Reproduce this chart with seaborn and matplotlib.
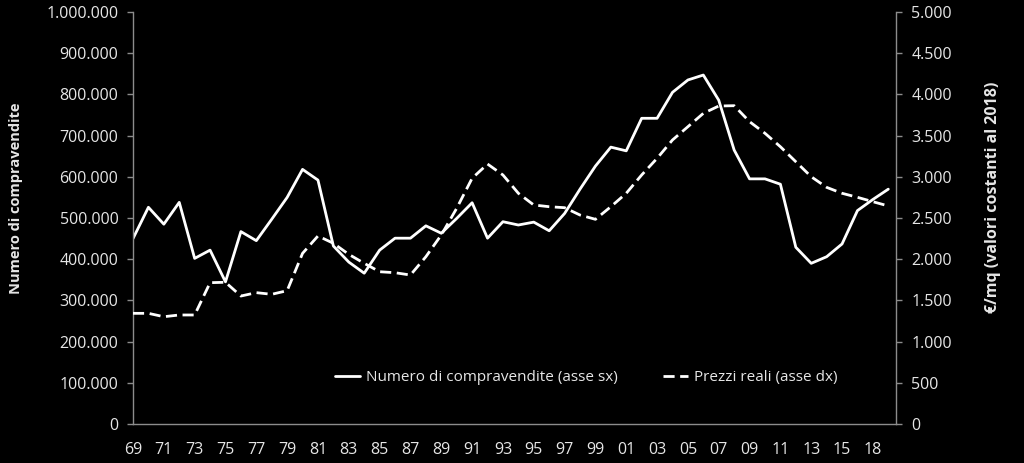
import matplotlib
matplotlib.use("Agg")
import matplotlib.pyplot as plt
from matplotlib.ticker import FuncFormatter, FixedLocator
from matplotlib.lines import Line2D
import seaborn as sns
import numpy as np
import pandas as pd

sns.set_theme(style="white")
plt.rcParams['font.family'] = ['Open Sans', 'DejaVu Sans']

# ---- data ----
years = list(range(1969, 2019))  # 50 categories
compravendite = [450000, 526000, 485000, 538000, 402000, 422000, 345000, 467000, 445000, 497000,
                 550000, 618000, 592000, 432000, 393000, 366000, 422000, 451000, 451000, 481000,
                 463000, 499000, 537000, 451000, 491000, 483000, 490000, 469000, 511000, 570000,
                 626000, 672000, 663000, 742000, 742000, 805000, 835000, 847000, 786000, 665000,
                 595000, 595000, 582000, 429000, 390000, 406000, 437000, 518000, 545000, 570000]
prezzi_reali = [1343, 1343, 1302, 1323, 1323, 1715, 1720, 1553, 1594, 1574,
                1618, 2071, 2282, 2193, 2059, 1950, 1848, 1836, 1808, 2030,
                2294, 2618, 2982, 3155, 3022, 2800, 2658, 2637, 2625, 2536,
                2484, 2637, 2800, 3022, 3224, 3447, 3608, 3770, 3859, 3863,
                3669, 3528, 3365, 3183, 3001, 2872, 2800, 2751, 2698, 2646]
tick_labels = ["69", "71", "73", "75", "77", "79", "81", "83", "85", "87", "89", "91", "93",
               "95", "97", "99", "01", "03", "05", "07", "09", "11", "13", "15", "18"]

label_left = "Numero di compravendite"
label_right = "€/mq (valori costanti al 2018)"
legend_labels = ["Numero di compravendite (asse sx)", "Prezzi reali (asse dx)"]

df = pd.DataFrame({"idx": np.arange(len(years)), "comp": compravendite, "prezzi": prezzi_reali})

TXT = "#e6e6e6"
SPINE = "#8c8c8c"
FS = 11.5

fig = plt.figure(figsize=(10.24, 4.63), dpi=100, facecolor="black")
ax = fig.add_axes([133/1024, 1 - 424/463, (896 - 133)/1024, (424 - 12)/463])
ax.set_facecolor("black")
ax2 = ax.twinx()

sns.lineplot(data=df, x="idx", y="comp", ax=ax, color="white", linewidth=2.0)
sns.lineplot(data=df, x="idx", y="prezzi", ax=ax2, color="white", linewidth=2.0)
for ln in ax2.get_lines():
    ln.set_dashes([4, 2])
    ln.set_dash_capstyle("butt")

ax.set_xlim(0, 49.5)
ax.set_ylim(0, 1000000)
ax2.set_ylim(0, 5000)

ax.set_yticks(np.arange(0, 1000001, 100000))
ax2.set_yticks(np.arange(0, 5001, 500))
fmt = FuncFormatter(lambda v, p: f"{v:,.0f}".replace(",", "."))
ax.yaxis.set_major_formatter(fmt)
ax2.yaxis.set_major_formatter(fmt)

ax.xaxis.set_major_locator(FixedLocator(np.arange(0, 2 * len(tick_labels), 2)))
ax.set_xticklabels(tick_labels)

for a in (ax, ax2):
    for s in a.spines.values():
        s.set_visible(False)
ax.spines["left"].set_visible(True)
ax.spines["bottom"].set_visible(True)
ax2.spines["right"].set_visible(True)
for s in (ax.spines["left"], ax.spines["bottom"], ax2.spines["right"]):
    s.set_color(SPINE)
    s.set_linewidth(1.0)

ax.tick_params(axis="y", colors=SPINE, labelcolor=TXT, labelsize=FS, length=4, width=1, pad=6.5, left=True)
ax2.tick_params(axis="y", colors=SPINE, labelcolor=TXT, labelsize=FS, length=4, width=1, pad=7, right=True)
ax.tick_params(axis="x", labelcolor=TXT, labelsize=FS, length=0, pad=13)

ax.set_xlabel("")
ax.set_ylabel(label_left, color=TXT, fontsize=10.5, fontweight="bold")
ax2.set_ylabel(label_right, color=TXT, fontsize=11.5, fontweight="bold")
ax.yaxis.set_label_coords(-0.144, 0.549)
ax2.yaxis.set_label_coords(1.1166, 0.549)
ax.grid(False)
ax2.grid(False)

handles = [Line2D([0], [0], color="white", linewidth=2.0),
           Line2D([0], [0], color="white", linewidth=2.0, dashes=[4, 2])]
leg = ax2.legend(handles, legend_labels, ncol=2, loc="center", bbox_to_anchor=(0.594, 0.112),
                 frameon=False, fontsize=11, handlelength=1.6, handletextpad=0.4,
                 columnspacing=3.0, labelcolor=TXT)

fig.savefig("out.png", dpi=100, facecolor="black")
